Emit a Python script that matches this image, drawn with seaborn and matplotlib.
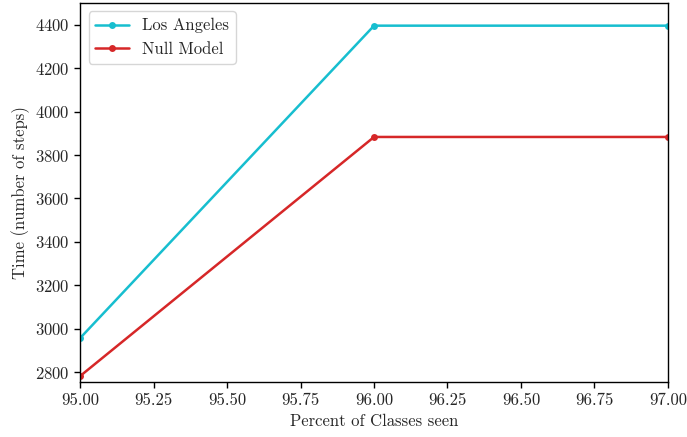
import matplotlib
matplotlib.use("Agg")
import matplotlib.pyplot as plt
import seaborn as sns
import pandas as pd

# Percent of classes seen vs. time needed
percent_seen = [95.0, 96.0, 97.0]
los_angeles = [2959, 4395, 4395]
null_model = [2784, 3883, 3883]

sns.set_theme(style="ticks")
plt.rcParams["font.family"] = ["cmr10", "DejaVu Serif"]
plt.rcParams["mathtext.fontset"] = "cm"
plt.rcParams["axes.formatter.use_mathtext"] = True
plt.rcParams["font.size"] = 12

df = pd.DataFrame({
    "percent": percent_seen * 2,
    "time": los_angeles + null_model,
    "series": ["Los Angeles"] * 3 + ["Null Model"] * 3,
})

fig, ax = plt.subplots(figsize=(6.87, 4.37), dpi=100)
sns.lineplot(data=df, x="percent", y="time", hue="series",
             palette={"Los Angeles": "#17becf", "Null Model": "#d62728"},
             marker="o", markersize=5, markeredgewidth=0, linewidth=1.8,
             ax=ax)

ax.set_xlim(95.0, 97.0)
ax.set_ylim(2754, 4499)
ax.set_xticks([95.0, 95.25, 95.5, 95.75, 96.0, 96.25, 96.5, 96.75, 97.0])
ax.set_xticklabels([f"{v:.2f}" for v in ax.get_xticks()])
ax.set_yticks(range(2800, 4401, 200))
ax.set_xlabel("Percent of Classes seen", fontsize=12)
ax.set_ylabel("Time (number of steps)", fontsize=12)
ax.tick_params(labelsize=12, length=4, width=1, color="black")
for s in ax.spines.values():
    s.set_visible(True)
    s.set_color("black")
    s.set_linewidth(1.0)

leg = ax.legend(loc="upper left", fontsize=12, frameon=True)
leg.set_title(None)

fig.subplots_adjust(left=0.117, right=0.972, top=0.993, bottom=0.125)
fig.savefig("out.png", dpi=100)
